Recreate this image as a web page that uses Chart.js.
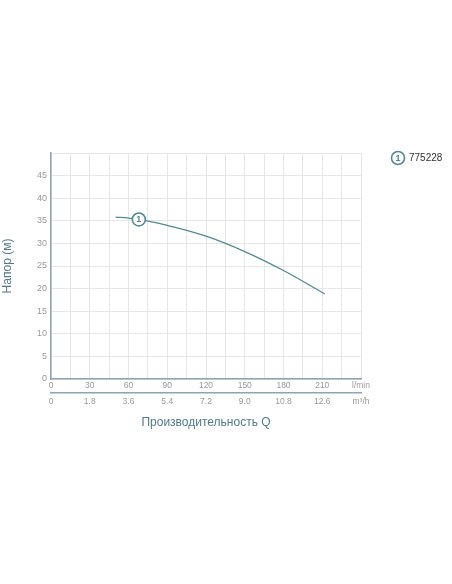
<!DOCTYPE html>
<html><head><meta charset="utf-8">
<script src="https://cdn.jsdelivr.net/npm/chart.js@4"></script>
<style>html,body{margin:0;padding:0;background:#fff}</style>
</head><body>
<canvas id="c" width="452" height="584"></canvas>
<script>
const flowLmin = [50, 60, 70, 90, 120, 150, 180, 212];
const headM = [35.8, 35.6, 35.2, 34.0, 31.6, 28.2, 24.0, 18.8];
const markerFlow = [68];
const markerHead = [35.3];
const seriesLabel = "775228";
const yTitle = "Напор (м)";
const xTitle = "Производительность Q";
const unit1 = "l/min", unit2 = "m³/h";
const teal = "#4f8a96";

const overlay = {
  id: "overlay",
  afterDatasetsDraw(chart) {
    const {ctx, scales} = chart;
    ctx.save();
    const drawBadge = (x, y) => {
      ctx.beginPath(); ctx.arc(x, y, 6.5, 0, Math.PI*2);
      ctx.fillStyle = "#fff"; ctx.fill();
      ctx.lineWidth = 1.6; ctx.strokeStyle = teal; ctx.stroke();
      ctx.fillStyle = teal; ctx.font = "bold 9px Arial, 'Liberation Sans'";
      ctx.textAlign = "center"; ctx.textBaseline = "middle";
      ctx.fillText("1", x, y + 0.5);
    };
    drawBadge(scales.x.getPixelForValue(markerFlow[0]), scales.y.getPixelForValue(markerHead[0]));
    drawBadge(398, 158);
    ctx.fillStyle = "#333"; ctx.font = "10px Arial, 'Liberation Sans'";
    ctx.textAlign = "left"; ctx.fillText(seriesLabel, 409, 158.5);
    ctx.restore();
  }
};

new Chart(document.getElementById("c"), {
  type: "line",
  data: { datasets: [{
    data: flowLmin.map((x, i) => ({x, y: headM[i]})),
    borderColor: teal, borderWidth: 1.3, pointRadius: 0, tension: 0.4, fill: false
  }]},
  options: {
    responsive: false, animation: false,
    layout: { padding: { left: 0, right: 91, top: 153, bottom: 154 } },
    plugins: { legend: { display: false }, tooltip: { enabled: false } },
    scales: {
      y: {
        min: 0, max: 50,
        ticks: { stepSize: 2.5, color: "#999", font: { size: 9, family: "Arial" }, padding: 4,
          callback: v => (v % 5 === 0 && v < 50) ? v : "" },
        grid: { color: "#e6e6e6", drawTicks: false },
        border: { color: "#8aa6b0", width: 1.5 },
        title: { display: true, text: yTitle, color: "#4f7b8a", font: { size: 12, family: "Arial" }, padding: { top: 0, bottom: 6 } },
        afterFit(s) { s.width = 51; }
      },
      x: {
        type: "linear", min: 0, max: 240, position: "bottom",
        ticks: { stepSize: 15, color: "#999", font: { size: 8.5, family: "Arial" }, padding: 2, maxRotation: 0, autoSkip: false,
          callback: v => v === 240 ? unit1 : (v % 30 === 0 ? v : "") },
        grid: { color: "#e6e6e6", drawTicks: false },
        border: { color: "#8aa6b0", width: 1.5 },
        afterFit(s) { s.height = 14; }
      },
      x2: {
        type: "linear", min: 0, max: 14.4, position: "bottom",
        ticks: { stepSize: 1.8, color: "#999", font: { size: 8.5, family: "Arial" }, padding: 4, maxRotation: 0, autoSkip: false,
          callback: v => Math.abs(v - 14.4) < 1e-6 ? unit2 : (+v).toFixed(1).replace(/\.0$/, v === 0 ? "" : ".0") },
        grid: { display: false, drawTicks: false },
        border: { color: "#8aa6b0", width: 1.5 },
        title: { display: true, text: xTitle, color: "#4f7b8a", font: { size: 12, family: "Arial" }, padding: { top: 14, bottom: 0 } },
        afterFit(s) { s.height = 37; }
      }
    }
  },
  plugins: [overlay]
});
</script>
</body></html>
